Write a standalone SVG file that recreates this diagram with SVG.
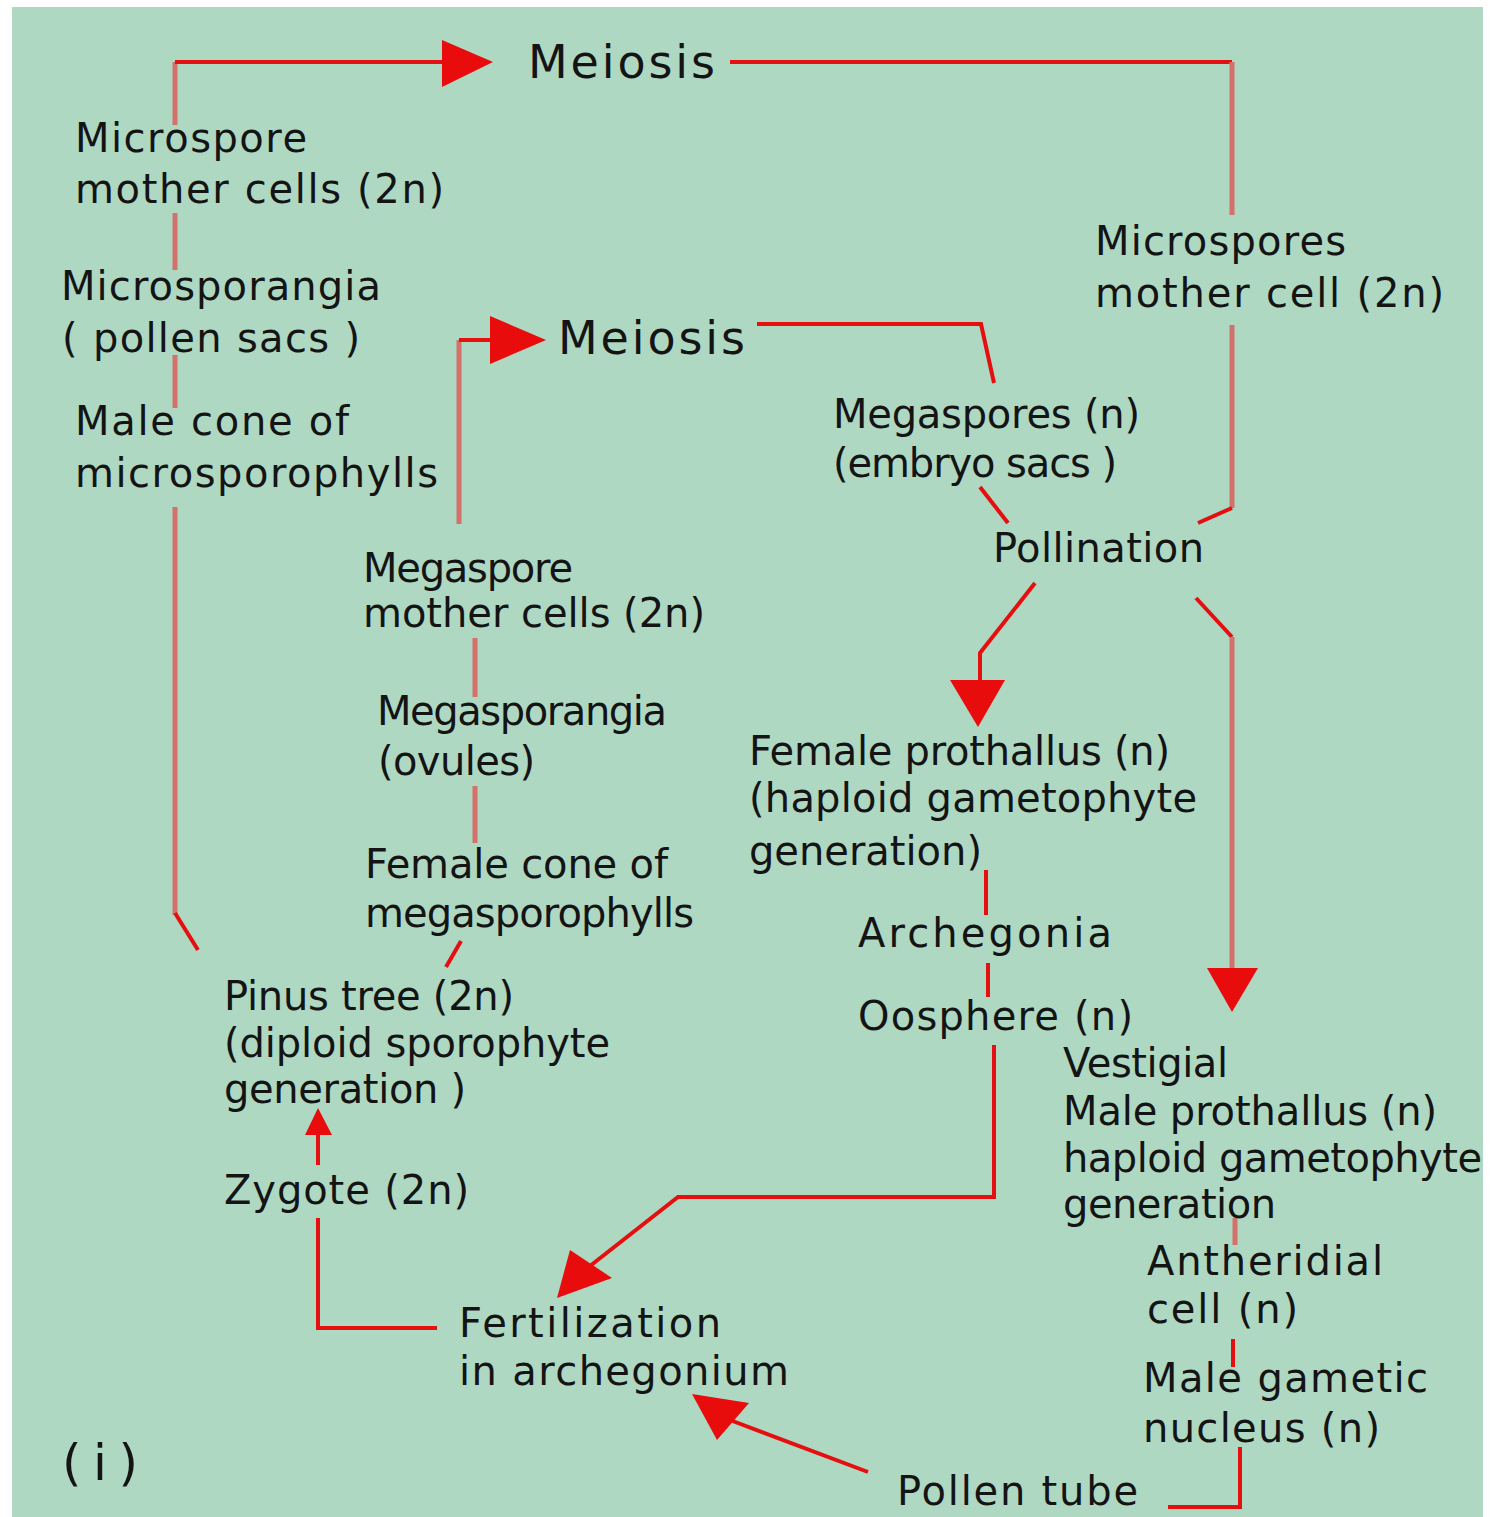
<svg xmlns="http://www.w3.org/2000/svg" width="1493" height="1517" viewBox="0 0 1493 1517">
<style>
.t{font-family:"DejaVu Sans",Verdana,sans-serif;font-size:40px;fill:#141414}
.big{font-size:46px}
.lbl{font-size:50px}
.ln{fill:none;stroke:#e60f0f;stroke-width:4}
.sl{fill:none;stroke:#d2726a;stroke-width:5}
.ah{fill:#e80c0c}
</style>
<rect x="0" y="0" width="1493" height="1517" fill="#ffffff"/>
<rect x="12" y="7" width="1471" height="1510" fill="#afd8c3"/>
<g id="connectors">
<path class="sl" d="M175,125 V62"/>
<path class="ln" d="M175,62 H445"/>
<path class="sl" d="M175,213 V270 M175,355 V408 M175,507 V915"/>
<path class="ln" d="M175,913 L198,950"/>
<path class="ln" d="M730,62 H1232"/>
<path class="sl" d="M1232,62 V215 M1232,325 V508"/>
<path class="ln" d="M1232,508 L1198,523"/>
<path class="sl" d="M459,524 V340"/>
<path class="ln" d="M459,340 H492"/>
<path class="ln" d="M757,324 H981 L994,383"/>
<path class="ln" d="M980,487 L1008,523"/>
<path class="ln" d="M1035,583 L980,653 V682"/>
<path class="ln" d="M1196,598 L1232,637"/>
<path class="sl" d="M1232,637 V970"/>
<path class="ln" d="M986,870 V915 M988,963 V997"/>
<path class="ln" d="M994,1045 V1197 H678 L590,1266"/>
<path class="ln" d="M868,1472 L730,1420"/>
<path class="ln" d="M437,1328 H318 V1218 M318,1165 V1133"/>
<path class="ln" d="M461,941 L446,967"/>
<path class="sl" d="M475,638 V697 M475,786 V843"/>
<path class="sl" d="M1235,1218 V1245"/>
<path class="ln" d="M1233,1339 V1367"/>
<path class="ln" d="M1240,1447 V1507 H1168"/>
<polygon class="ah" points="442,40 493,62 442,87"/>
<polygon class="ah" points="490,316 546,340 490,364"/>
<polygon class="ah" points="950,680 1005,680 978,727"/>
<polygon class="ah" points="1207,968 1258,968 1232,1012"/>
<polygon class="ah" points="570,1250 612,1278 557,1298"/>
<polygon class="ah" points="692,1394 749,1403 717,1440"/>
<polygon class="ah" points="305,1135 332,1135 318,1108"/>
</g>
<g id="meiosis-top"><text class="t big" x="528" y="78" textLength="187" lengthAdjust="spacing">Meiosis</text></g>
<g id="microspore-mother-cells">
<text class="t" x="75" y="152" textLength="232" lengthAdjust="spacing">Microspore</text>
<text class="t" x="75" y="203" textLength="369" lengthAdjust="spacing">mother cells (2n)</text>
</g>
<g id="microsporangia">
<text class="t" x="61" y="300" textLength="320" lengthAdjust="spacing">Microsporangia</text>
<text class="t" x="62" y="352" textLength="298" lengthAdjust="spacing">( pollen sacs )</text>
</g>
<g id="male-cone">
<text class="t" x="75" y="435" textLength="274" lengthAdjust="spacing">Male cone of</text>
<text class="t" x="75" y="487" textLength="363" lengthAdjust="spacing">microsporophylls</text>
</g>
<g id="meiosis-second"><text class="t big" x="558" y="354" textLength="187" lengthAdjust="spacing">Meiosis</text></g>
<g id="microspores-mother-cell">
<text class="t" x="1095" y="255" textLength="251" lengthAdjust="spacing">Microspores</text>
<text class="t" x="1095" y="307" textLength="349" lengthAdjust="spacing">mother cell (2n)</text>
</g>
<g id="megaspores">
<text class="t" x="833" y="428" textLength="307" lengthAdjust="spacing">Megaspores (n)</text>
<text class="t" x="833" y="477" textLength="284" lengthAdjust="spacing">(embryo sacs )</text>
</g>
<g id="pollination"><text class="t" x="993" y="562" textLength="211" lengthAdjust="spacing">Pollination</text></g>
<g id="megaspore-mother-cells">
<text class="t" x="363" y="582" textLength="210" lengthAdjust="spacing">Megaspore</text>
<text class="t" x="363" y="627" textLength="342" lengthAdjust="spacing">mother cells (2n)</text>
</g>
<g id="megasporangia">
<text class="t" x="377" y="725" textLength="290" lengthAdjust="spacing">Megasporangia</text>
<text class="t" x="378" y="775" textLength="157" lengthAdjust="spacing">(ovules)</text>
</g>
<g id="female-cone">
<text class="t" x="365" y="878" textLength="303" lengthAdjust="spacing">Female cone of</text>
<text class="t" x="365" y="927" textLength="329" lengthAdjust="spacing">megasporophylls</text>
</g>
<g id="female-prothallus">
<text class="t" x="749" y="765" textLength="421" lengthAdjust="spacing">Female prothallus (n)</text>
<text class="t" x="749" y="812" textLength="448" lengthAdjust="spacing">(haploid gametophyte</text>
<text class="t" x="749" y="865" textLength="233" lengthAdjust="spacing">generation)</text>
</g>
<g id="archegonia"><text class="t" x="858" y="947" textLength="254" lengthAdjust="spacing">Archegonia</text></g>
<g id="oosphere"><text class="t" x="858" y="1030" textLength="275" lengthAdjust="spacing">Oosphere (n)</text></g>
<g id="pinus-tree">
<text class="t" x="224" y="1010" textLength="290" lengthAdjust="spacing">Pinus tree (2n)</text>
<text class="t" x="224" y="1057" textLength="386" lengthAdjust="spacing">(diploid sporophyte</text>
<text class="t" x="224" y="1103" textLength="242" lengthAdjust="spacing">generation )</text>
</g>
<g id="zygote"><text class="t" x="224" y="1204" textLength="245" lengthAdjust="spacing">Zygote (2n)</text></g>
<g id="male-prothallus">
<text class="t" x="1063" y="1077" textLength="165" lengthAdjust="spacing">Vestigial</text>
<text class="t" x="1063" y="1125" textLength="374" lengthAdjust="spacing">Male prothallus (n)</text>
<text class="t" x="1063" y="1172" textLength="419" lengthAdjust="spacing">haploid gametophyte</text>
<text class="t" x="1063" y="1218" textLength="213" lengthAdjust="spacing">generation</text>
</g>
<g id="antheridial-cell">
<text class="t" x="1147" y="1275" textLength="236" lengthAdjust="spacing">Antheridial</text>
<text class="t" x="1147" y="1323" textLength="151" lengthAdjust="spacing">cell (n)</text>
</g>
<g id="male-gametic-nucleus">
<text class="t" x="1143" y="1392" textLength="285" lengthAdjust="spacing">Male gametic</text>
<text class="t" x="1143" y="1442" textLength="237" lengthAdjust="spacing">nucleus (n)</text>
</g>
<g id="pollen-tube"><text class="t" x="897" y="1505" textLength="241" lengthAdjust="spacing">Pollen tube</text></g>
<g id="fertilization">
<text class="t" x="459" y="1337" textLength="262" lengthAdjust="spacing">Fertilization</text>
<text class="t" x="459" y="1385" textLength="330" lengthAdjust="spacing">in archegonium</text>
</g>
<g id="label-i"><text class="t lbl" x="62" y="1480" textLength="76" lengthAdjust="spacing">( i )</text></g>
</svg>
